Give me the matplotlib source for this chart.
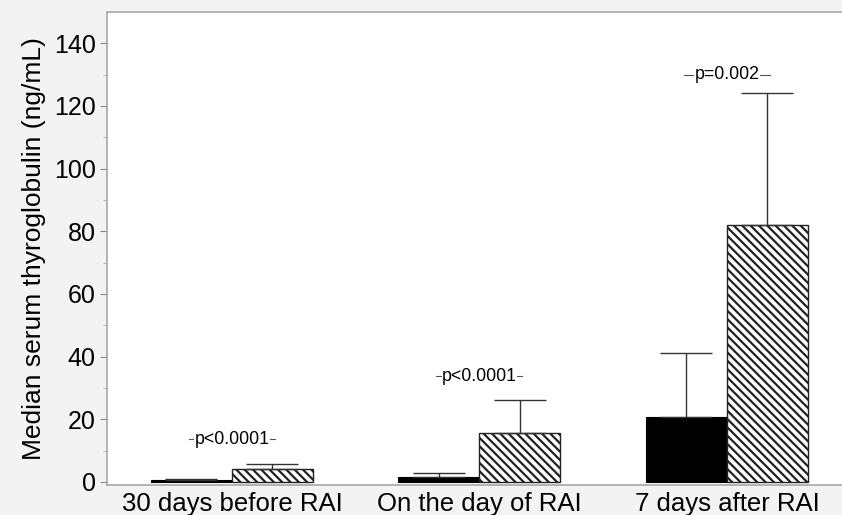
import numpy as np
import matplotlib
matplotlib.use('Agg')
import matplotlib.pyplot as plt

plt.rcParams['font.family'] = ['Liberation Sans', 'DejaVu Sans']
plt.rcParams['hatch.linewidth'] = 1.6

categories = ['30 days before RAI', 'On the day of RAI', '7 days after RAI']
group_a = [0.5, 1.5, 20.8]      # solid black bars
group_a_err = [0.3, 1.5, 20.2]
group_b = [4.1, 15.6, 82.0]     # hatched bars
group_b_err = [1.6, 10.6, 42.0]
p_labels = ['p<0.0001', 'p<0.0001', 'p=0.002']
p_heights = [13.6, 33.8, 130.0]

fig = plt.figure(figsize=(8.42, 5.15), dpi=100)
fig.patch.set_facecolor('#f3f3f3')
ax = fig.add_axes([0.127, 0.058, 0.873, 0.919])
ax.set_facecolor('white')

x = np.arange(len(categories))
w = 0.327

ax.bar(x - w / 2, group_a, w, color='black', edgecolor='black', linewidth=0.8,
       yerr=[np.zeros(3), group_a_err], capsize=19,
       error_kw=dict(ecolor='#333333', elinewidth=1.0, capthick=1.0))
ax.bar(x + w / 2, group_b, w, color='white', edgecolor='#222222', linewidth=1.0,
       hatch='\\\\\\\\', yerr=[np.zeros(3), group_b_err], capsize=19,
       error_kw=dict(ecolor='#333333', elinewidth=1.0, capthick=1.0))

# p-value brackets, text sits on top of a short line
for i in range(len(categories)):
    ax.plot([x[i] - w / 2 - 0.01, x[i] + w / 2 + 0.01], [p_heights[i], p_heights[i]],
            color='#555555', lw=0.8, zorder=3)
    ax.text(x[i], p_heights[i], p_labels[i], ha='center', va='center',
            fontsize=12.8, zorder=4,
            bbox=dict(facecolor='white', edgecolor='none', pad=0.2))

ax.set_xlim(-0.505, 2.465)
ax.set_ylim(-1, 150)
ax.set_xticks(x)
ax.set_xticklabels(categories, fontsize=18.5)
ax.set_yticks(np.arange(0, 141, 20))
ax.set_yticks(np.arange(10, 141, 20), minor=True)
ax.tick_params(axis='y', labelsize=18, colors='#888888', labelcolor='black',
               length=5, width=0.8, direction='out', pad=3)
ax.tick_params(axis='y', which='minor', length=3, colors='#aaaaaa')
ax.tick_params(axis='x', length=0, pad=5)
ax.set_ylabel('Median serum thyroglobulin (ng/mL)', fontsize=19, labelpad=6)

for s in ['left', 'top', 'bottom']:
    ax.spines[s].set_color('#a8a8a8')
    ax.spines[s].set_linewidth(1.2)
ax.spines['right'].set_visible(False)

fig.savefig('out.png', dpi=100, facecolor=fig.get_facecolor())
